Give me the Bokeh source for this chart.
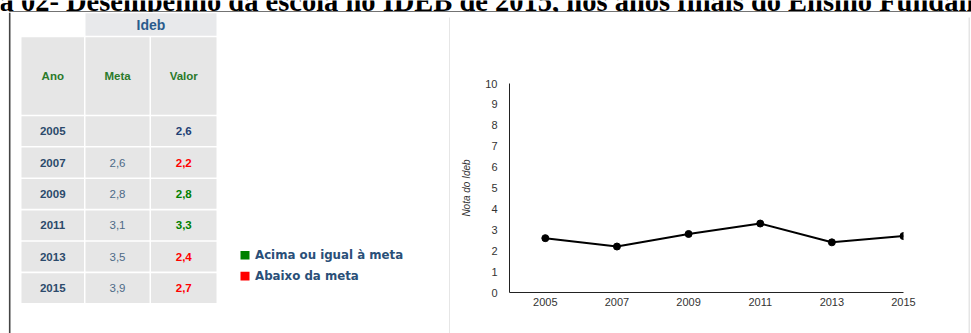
from bokeh.plotting import figure
from bokeh.layouts import column, row
from bokeh.models import ColumnDataSource, Range1d, FixedTicker, Label
from bokeh.core.properties import value
from bokeh.embed import file_html
from bokeh.resources import INLINE

# ---------------- data ----------------
anos = [2005, 2007, 2009, 2011, 2013, 2015]
meta = [None, 2.6, 2.8, 3.1, 3.5, 3.9]
valor = [2.6, 2.2, 2.8, 3.3, 2.4, 2.7]
cabecalho = ["Ano", "Meta", "Valor"]
grupo = "Ideb"
legenda = ["Acima ou igual à meta", "Abaixo da meta"]
titulo = "a 02- Desempenho da escola no IDEB de 2015, nos anos finais do Ensino Fundam"
y_ticks = list(range(0, 11))
eixo_y = "Nota do Ideb"
eixo_x = "Ano"

# ---------------- styles ----------------
VERDE = "#008000"
VERMELHO = "#ff0000"
AZUL_ESC = "#1f3f75"
TXT_ANO = "#2c4a6b"
TXT_META = "#4d6a86"
TXT_HEAD = "#2b7a2b"
CELL = "#e6e6e6"
FRAME = "#444444"
PANEL = "#cccccc"
SANS = value("Liberation Sans")


def fmt(v):
    return "" if v is None else f"{v:.1f}".replace(".", ",")


def blank(w, h, xr, yr):
    f = figure(width=w, height=h, x_range=xr, y_range=yr, output_backend="svg",
               toolbar_location=None, x_axis_type=None, y_axis_type=None,
               min_border=0, outline_line_color=None,
               background_fill_color="white", border_fill_color="white")
    return f


# ---------------- title strip ----------------
T = blank(971, 12, Range1d(0, 971), Range1d(12, 0))
T.text(x=[-1], y=[1], text=[titulo], text_font=value("Liberation Serif"),
       text_font_style="bold", text_font_size="28.5px", text_color="black",
       text_baseline="alphabetic", text_align="left")
T.segment(x0=[9], y0=[11.5], x1=[971], y1=[11.5], line_color=FRAME, line_width=1.6)
T.segment(x0=[9.2], y0=[11], x1=[9.2], y1=[12], line_color=FRAME, line_width=1.6)

# ---------------- left: table + legend ----------------
A = blank(450, 321, Range1d(0, 450), Range1d(333, 12))
A.segment(x0=[9.2], y0=[12], x1=[9.2], y1=[333], line_color=FRAME, line_width=1.6)
A.segment(x0=[449.5], y0=[17], x1=[449.5], y1=[333], line_color=PANEL, line_width=1)

col_l = [21, 85, 150.5]
col_r = [83.5, 149, 216]
col_c = [(a + b) / 2 for a, b in zip(col_l, col_r)]

# group header
A.quad(left=[col_l[1]], right=[col_r[2]], top=[12.7], bottom=[35.3],
       fill_color="#e8e9eb", line_color=None)
A.text(x=[(col_l[1] + col_r[2]) / 2], y=[24.2], text=[grupo], text_font=SANS,
       text_font_style="bold", text_font_size="14px", text_color="#2a5b8c",
       text_align="center", text_baseline="middle")

# column headers
A.quad(left=col_l, right=col_r, top=[36.7] * 3, bottom=[114.3] * 3,
       fill_color=CELL, line_color=None)
A.text(x=col_c, y=[75.5] * 3, text=cabecalho, text_font=SANS, text_font_style="bold",
       text_font_size="11.5px", text_color=TXT_HEAD, text_align="center",
       text_baseline="middle")

# body
n = len(anos)
tops = [115.7 + i * 31.4 for i in range(n)]
bots = [t + 29.8 for t in tops]
mids = [t + 14.9 for t in tops]
for j in range(3):
    A.quad(left=[col_l[j]] * n, right=[col_r[j]] * n, top=tops, bottom=bots,
           fill_color=CELL, line_color=None)

vcol = []
for m, v in zip(meta, valor):
    if m is None:
        vcol.append(AZUL_ESC)
    elif v >= m:
        vcol.append(VERDE)
    else:
        vcol.append(VERMELHO)

src_body = ColumnDataSource(dict(
    y=mids, ano=[str(a) for a in anos], meta=[fmt(m) for m in meta],
    valor=[fmt(v) for v in valor], vcol=vcol))
A.text(x=col_c[0], y="y", text="ano", source=src_body, text_font=SANS,
       text_font_style="bold", text_font_size="11.5px", text_color=TXT_ANO,
       text_align="center", text_baseline="middle")
A.text(x=col_c[1], y="y", text="meta", source=src_body, text_font=SANS,
       text_font_size="11.5px", text_color=TXT_META,
       text_align="center", text_baseline="middle")
A.text(x=col_c[2], y="y", text="valor", source=src_body, text_font=SANS,
       text_font_style="bold", text_font_size="11.5px", text_color="vcol",
       text_align="center", text_baseline="middle")

# legend
leg_y = [254.8, 275.6]
A.quad(left=[240, 240], right=[249, 249], top=[y - 4.3 for y in leg_y],
       bottom=[y + 4.3 for y in leg_y], fill_color=[VERDE, VERMELHO], line_color=None)
A.text(x=[254.5, 254.5], y=leg_y, text=legenda, text_font=value("DejaVu Sans"),
       text_font_style="bold", text_font_size="11.8px", text_color="#2a4f78",
       text_align="left", text_baseline="middle")

# ---------------- right: panel + chart ----------------
Btop = blank(518, 6, Range1d(450, 968), Range1d(18, 12))
Btop.segment(x0=[450], y0=[17.5], x1=[968], y1=[17.5], line_color=PANEL, line_width=1)

C = blank(3, 321, Range1d(968, 971), Range1d(333, 12))
C.segment(x0=[968.5], y0=[17], x1=[968.5], y1=[333], line_color=PANEL, line_width=1)

p = figure(width=518, height=315, x_range=Range1d(2004, 2015), y_range=Range1d(0, 10),
           output_backend="svg", toolbar_location=None,
           min_border_left=59, min_border_right=65, min_border_top=65,
           min_border_bottom=41, outline_line_color=None,
           background_fill_color="white", border_fill_color="white")
p.grid.visible = False
src = ColumnDataSource(dict(x=anos, y=valor))
p.line("x", "y", source=src, line_color="black", line_width=2)
p.scatter("x", "y", source=src, size=7, fill_color="black", line_color="black")

for ax in (p.xaxis, p.yaxis):
    ax.axis_line_color = "#222222"
    ax.axis_line_width = 1
    ax.major_tick_line_color = None
    ax.minor_tick_line_color = None
    ax.major_tick_out = 0
    ax.major_tick_in = 0
    ax.major_label_text_font = "Liberation Sans"
    ax.major_label_text_font_size = "11px"
    ax.major_label_text_color = "#333333"

p.xaxis.ticker = FixedTicker(ticks=anos)
p.xaxis.major_label_standoff = 5
p.yaxis.ticker = FixedTicker(ticks=y_ticks)
p.yaxis.major_label_standoff = 12
p.yaxis.axis_label = eixo_y
p.yaxis.axis_label_text_font = "Liberation Sans"
p.yaxis.axis_label_text_font_style = "italic"
p.yaxis.axis_label_text_font_size = "10px"
p.yaxis.axis_label_text_color = "#333333"
p.yaxis.axis_label_standoff = 10

p.add_layout(Label(x=2009.5, y=-1.6, text=eixo_x, text_font="Liberation Sans",
                   text_font_size="12px", text_color="#333333",
                   text_align="center", text_baseline="top"))

layout = column(T, row(A, column(Btop, p), C))

open("out.html", "w").write(file_html(layout, INLINE))
